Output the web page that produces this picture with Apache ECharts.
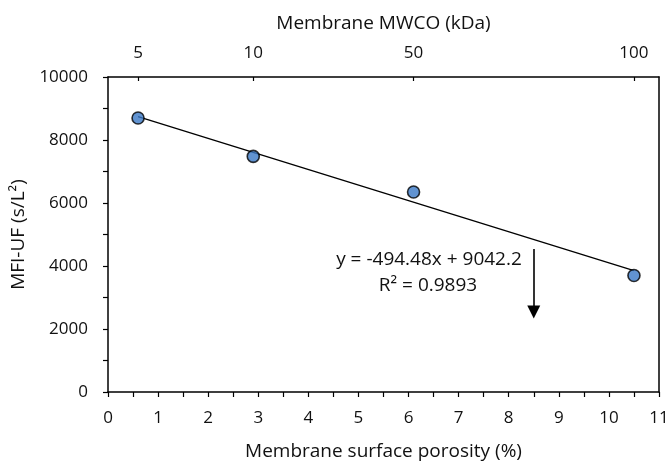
<!DOCTYPE html>
<html><head><meta charset="utf-8">
<script src="https://cdn.jsdelivr.net/npm/echarts@6/dist/echarts.min.js"></script>
<style>html,body{margin:0;padding:0;background:#fff}#c{width:671px;height:462px}</style>
</head><body><div id="c"></div>
<script>
// Data
const porosity = [0.6, 2.9, 6.1, 10.5];
const mfiUF = [8700, 7480, 6350, 3700];
const mwcoLabels = ['5', '10', '50', '100'];
const mwcoPositions = [0.6, 2.9, 6.1, 10.5];
const trendSlope = -494.48;
const trendIntercept = 9042.2;
const trendX = [0.6, 10.5];
const arrowX = [8.5, 8.5];
const arrowY = [4540, 2540];

const FONT = 'Open Sans';
const TXT = '#111';
const chart = echarts.init(document.getElementById('c'));
const scatterData = porosity.map((x, i) => [x, mfiUF[i]]);
const trendData = trendX.map(x => [x, trendSlope * x + trendIntercept]);

chart.setOption({
  animation: false,
  grid: {left: 108, right: 12, top: 77, bottom: 70, containLabel: false, outerBoundsMode: 'none'},
  xAxis: [{
    type: 'value', min: 0, max: 11, interval: 1, position: 'bottom',
    name: 'Membrane surface porosity (%)', nameLocation: 'middle', nameGap: 50,
    nameTextStyle: {fontFamily: FONT, fontSize: 19, color: TXT},
    axisLine: {show: true, onZero: false, lineStyle: {color: '#000', width: 1.5}},
    axisTick: {show: true, inside: false, length: 5, lineStyle: {color: '#000', width: 1.2}},
    minorTick: {show: true, splitNumber: 2, length: 5, lineStyle: {color: '#000', width: 1.2}},
    axisLabel: {fontFamily: FONT, fontSize: 17, color: TXT, margin: 18},
    splitLine: {show: false}
  }, {
    type: 'value', min: 0, max: 11, position: 'top',
    name: 'Membrane MWCO (kDa)', nameLocation: 'middle', nameGap: 44,
    nameTextStyle: {fontFamily: FONT, fontSize: 19, color: TXT},
    axisLine: {show: true, onZero: false, lineStyle: {color: '#000', width: 1.5}},
    axisTick: {show: true, inside: true, length: 4, customValues: mwcoPositions, lineStyle: {color: '#000', width: 1.2}},
    axisLabel: {fontFamily: FONT, fontSize: 17, color: TXT, margin: 15, customValues: mwcoPositions,
      formatter: v => { const i = mwcoPositions.findIndex(p => Math.abs(p - v) < 1e-6); return i >= 0 ? mwcoLabels[i] : ''; }},
    splitLine: {show: false}
  }],
  yAxis: [{
    type: 'value', min: 0, max: 10000, interval: 2000, position: 'left',
    name: 'MFI-UF (s/L²)', nameLocation: 'middle', nameGap: 63,
    nameTextStyle: {fontFamily: FONT, fontSize: 19, color: TXT},
    axisLine: {show: true, onZero: false, lineStyle: {color: '#000', width: 1.5}},
    axisTick: {show: true, inside: false, length: 5, lineStyle: {color: '#000', width: 1.2}},
    minorTick: {show: true, splitNumber: 2, length: 5, lineStyle: {color: '#000', width: 1.2}},
    axisLabel: {fontFamily: FONT, fontSize: 17, color: TXT, margin: 20, formatter: v => String(v)},
    splitLine: {show: false}
  }, {
    type: 'value', min: 0, max: 10000, interval: 2000, position: 'right',
    axisLine: {show: true, onZero: false, lineStyle: {color: '#000', width: 1.5}},
    axisTick: {show: false}, axisLabel: {show: false}, splitLine: {show: false}
  }],
  series: [{
    type: 'line', data: trendData, symbol: 'none', silent: true,
    lineStyle: {color: '#000', width: 1.3}, z: 2,
    markLine: {
      silent: true, symbol: ['none', 'triangle'], symbolSize: 13,
      lineStyle: {color: '#000', width: 1.6, type: 'solid'}, label: {show: false},
      itemStyle: {color: '#000'},
      data: [[{coord: [arrowX[0], arrowY[0]]}, {coord: [arrowX[1], arrowY[1]]}]]
    }
  }, {
    type: 'scatter', data: scatterData, symbol: 'circle', symbolSize: 12,
    itemStyle: {color: '#3a78c5', borderColor: '#000', borderWidth: 1.6}, z: 3
  }],
  graphic: [{
    type: 'text', x: 429, y: 260,
    style: {text: 'y = -494.48x + 9042.2', fontFamily: FONT, fontSize: 19, fill: TXT, align: 'center', verticalAlign: 'middle'}
  }, {
    type: 'text', x: 428, y: 286,
    style: {text: 'R² = 0.9893', fontFamily: FONT, fontSize: 19, fill: TXT, align: 'center', verticalAlign: 'middle'}
  }]
});
</script></body></html>
